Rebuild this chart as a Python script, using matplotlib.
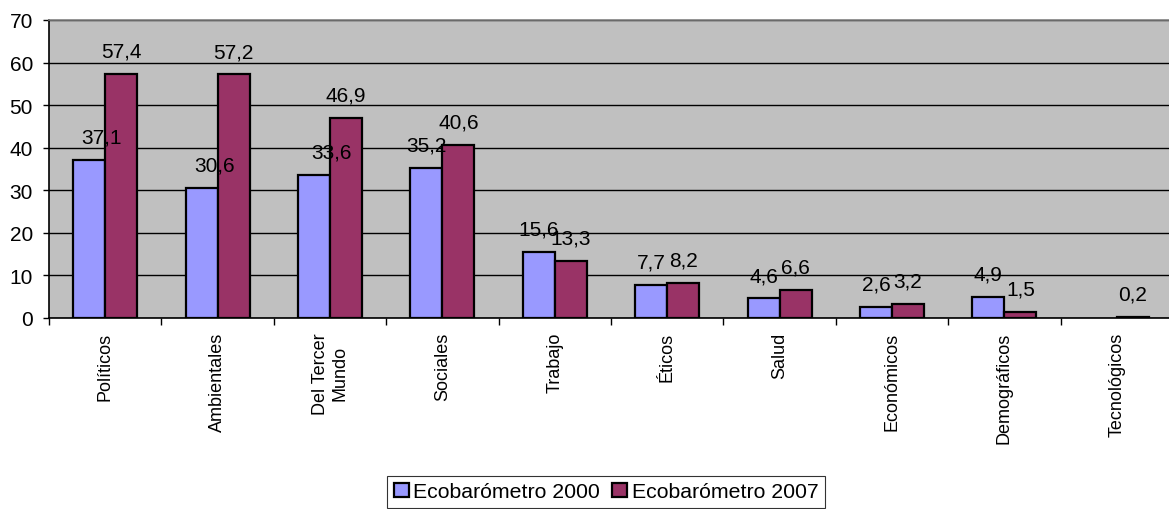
import matplotlib
matplotlib.use("Agg")
import matplotlib.pyplot as plt
import numpy as np

categories = ["Políticos", "Ambientales", "Del Tercer\nMundo", "Sociales", "Trabajo",
              "Éticos", "Salud", "Económicos", "Demográficos", "Tecnológicos"]
eco2000 = [37.1, 30.6, 33.6, 35.2, 15.6, 7.7, 4.6, 2.6, 4.9, np.nan]
eco2007 = [57.4, 57.2, 46.9, 40.6, 13.3, 8.2, 6.6, 3.2, 1.5, 0.2]
series_names = ["Ecobarómetro 2000", "Ecobarómetro 2007"]
yticks = [0, 10, 20, 30, 40, 50, 60, 70]

# label x-shift (pixels) for the 2000 series, as in the original layout
shift2000 = [12, 13, 18, 0, 0, 0, 0, 0, 0, 0]

plt.rcParams['font.family'] = ['Liberation Sans', 'DejaVu Sans']
W, H = 1169, 510
fig = plt.figure(figsize=(W / 100, H / 100), dpi=100)
left, right, bot, top = 49, 1173, 319, 21
ax = fig.add_axes([left / W, (H - bot) / H, (right - left) / W, (bot - top) / H])
ax.set_facecolor("#C0C0C0")

x = np.arange(len(categories))
bw = 0.285
c1, c2 = "#9999FF", "#993366"
b1 = ax.bar(x - bw / 2, eco2000, bw, color=c1, edgecolor="black", linewidth=1.6,
            label=series_names[0], zorder=3)
b2 = ax.bar(x + bw / 2, eco2007, bw, color=c2, edgecolor="black", linewidth=1.6,
            label=series_names[1], zorder=3)

def fmt(v):
    return f"{v:.1f}".replace(".", ",")

for i, v in enumerate(eco2000):
    if not np.isnan(v):
        ax.annotate(fmt(v), (x[i] - bw / 2, v), xytext=(shift2000[i] * 0.72, 16.5),
                    textcoords="offset points", ha="center", va="center",
                    fontsize=15, zorder=4)
for i, v in enumerate(eco2007):
    ax.annotate(fmt(v), (x[i] + bw / 2, v), xytext=(0, 16.5),
                textcoords="offset points", ha="center", va="center",
                fontsize=15, zorder=4)

ax.set_ylim(0, 70)
ax.set_yticks(yticks)
ax.set_yticklabels([str(t) for t in yticks], fontsize=15)
ax.yaxis.grid(True, color="black", linewidth=1.0, zorder=1)
ax.set_axisbelow(True)
ax.tick_params(axis="y", length=4.5, width=1, pad=7)

ax.set_xlim(-0.5, len(categories) - 0.5)
ax.set_xticks(np.arange(len(categories) + 1) - 0.5)
ax.set_xticklabels([])
ax.tick_params(axis="x", which="major", length=5, width=1, direction="out")
ax.set_xticks(x, minor=True)
ax.set_xticklabels(categories, minor=True, rotation=90, fontsize=13,
                   va="top", ha="center", multialignment="center")
ax.tick_params(axis="x", which="minor", length=0, pad=10)

for s in ["left", "bottom"]:
    ax.spines[s].set_color("black")
    ax.spines[s].set_linewidth(1.2)
for s in ["top", "right"]:
    ax.spines[s].set_color("#808080")
    ax.spines[s].set_linewidth(1.2)

leg = fig.legend(handles=[b1, b2], loc="upper center",
                 bbox_to_anchor=(606 / W, (H - 477) / H), ncol=2, fontsize=15.3,
                 frameon=True, fancybox=False, edgecolor="black",
                 handlelength=0.7, handleheight=0.7, handletextpad=0.2,
                 columnspacing=0.6, borderpad=0.3, borderaxespad=0)
leg.get_frame().set_linewidth(0.8)

fig.savefig("out.png", dpi=100)
